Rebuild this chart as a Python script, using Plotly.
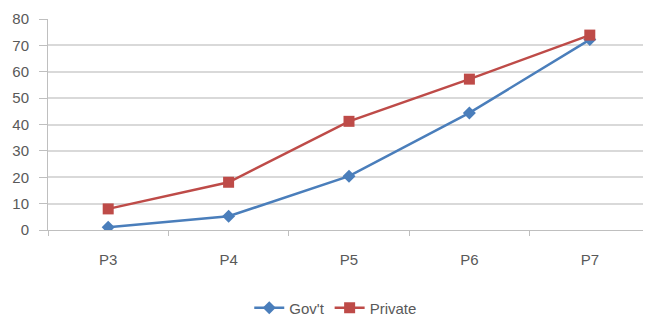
import plotly.graph_objects as go

categories = ["P3", "P4", "P5", "P6", "P7"]
govt = [1, 5.2, 20.4, 44.4, 72.2]
private = [8, 18.1, 41.2, 57.2, 73.9]
y_ticks = [0, 10, 20, 30, 40, 50, 60, 70, 80]

fig = go.Figure()
fig.add_trace(go.Scatter(
    x=categories, y=govt, name="Gov't", mode="lines+markers",
    line=dict(color="#4A7EBB", width=2.5),
    marker=dict(symbol="diamond", size=10, color="#4A7EBB"),
))
fig.add_trace(go.Scatter(
    x=categories, y=private, name="Private", mode="lines+markers",
    line=dict(color="#BE4B48", width=2.5),
    marker=dict(symbol="square", size=11, color="#BE4B48"),
))

fig.update_layout(
    width=643, height=308,
    margin=dict(l=40, r=1, t=11, b=86, autoexpand=False),
    paper_bgcolor="white", plot_bgcolor="white",
    font=dict(family="Liberation Sans, Arial, sans-serif", size=15, color="#595959"),
    showlegend=True,
    legend=dict(orientation="h", x=0.478, xanchor="center", y=-0.37, yanchor="middle",
                font=dict(size=15, color="#595959")),
    xaxis=dict(
        type="category", range=[-0.5, 4.5],
        showline=True, linecolor="#BFBFBF", linewidth=1,
        ticks="outside", tickson="boundaries", ticklen=5, tickcolor="#BFBFBF",
        ticklabelstandoff=16,
        showgrid=False, zeroline=False,
    ),
    yaxis=dict(
        range=[0, 80], tickvals=y_ticks,
        showline=True, linecolor="#BFBFBF", linewidth=1,
        ticks="outside", ticklen=8, tickcolor="#BFBFBF",
        ticklabelstandoff=7,
        showgrid=True, gridcolor="#D9D9D9", gridwidth=1.5,
        zeroline=False,
    ),
)

fig.write_html("out.html")
